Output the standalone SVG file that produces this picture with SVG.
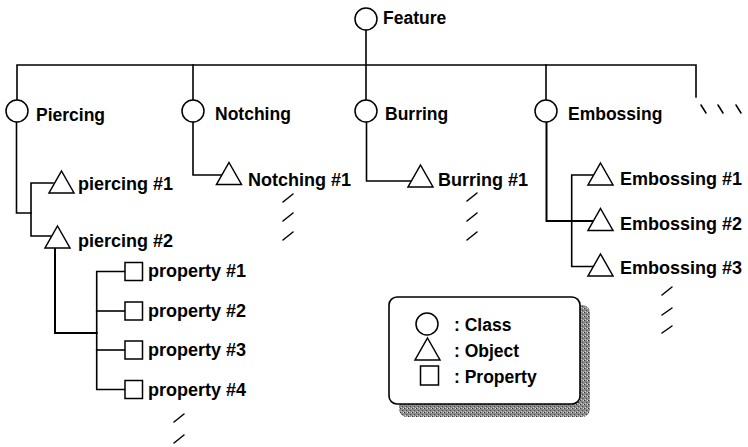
<svg xmlns="http://www.w3.org/2000/svg" width="748" height="447" viewBox="0 0 748 447">
<defs>
<style>
.ln{fill:none;stroke:#000;stroke-width:1.6;stroke-linecap:square}
.thk{stroke-width:2}
.sh{fill:#fff;stroke:#000;stroke-width:1.5}
.cls{font-family:"Liberation Sans",Arial,sans-serif;font-weight:bold;font-size:17.5px;fill:#000}
.obj{font-family:"Liberation Sans",Arial,sans-serif;font-weight:bold;font-size:18px;fill:#000}
.prp{font-family:"Liberation Sans",Arial,sans-serif;font-weight:bold;font-size:18px;fill:#000}
.tick{fill:none;stroke:#000;stroke-width:1.5;stroke-linecap:round}
</style>
<pattern id="half" width="4" height="4" patternUnits="userSpaceOnUse">
<rect width="4" height="4" fill="#8c8c8c"/>
<rect x="0" y="0" width="1" height="1" fill="#333"/>
<rect x="2" y="2" width="1" height="1" fill="#444"/>
<rect x="3" y="0" width="1" height="1" fill="#ddd"/>
<rect x="1" y="3" width="1" height="1" fill="#ccc"/>
</pattern>
<polygon id="tri" points="12.5,0 25,22 0,22"/>
</defs>

<g id="connectors">
<path class="ln" d="M366,30 V100"/>
<path class="ln" d="M17,100 V65 H696 V97"/>
<path class="ln" d="M193,65 V100"/>
<path class="ln" d="M546,65 V100"/>
<path class="ln" d="M16.5,122 V213 H31"/>
<path class="ln" d="M53,183 H31 V236 H51"/>
<path class="ln thk" d="M55,248 V333 H96.7"/>
<path class="ln" d="M125,271.5 H96.7 V389.5 H125"/>
<path class="ln" d="M96.7,311 H125"/>
<path class="ln" d="M96.7,350 H125"/>
<path class="ln" d="M193,122 V175 H222"/>
<path class="ln" d="M366.5,122 V181 H412"/>
<path class="ln thk" d="M546.5,122 V221 H593"/>
<path class="ln" d="M593,175 H571.7 V266.5 H593"/>
</g>

<g id="feature"><circle class="sh" cx="366" cy="19" r="11"/><text class="cls" x="383" y="24">Feature</text></g>
<g id="piercing"><circle class="sh" cx="17" cy="111" r="11"/><text class="cls" x="36" y="120.5">Piercing</text></g>
<g id="notching"><circle class="sh" cx="193" cy="111" r="11"/><text class="cls" x="215" y="120">Notching</text></g>
<g id="burring"><circle class="sh" cx="366" cy="111" r="11"/><text class="cls" x="385" y="120">Burring</text></g>
<g id="embossing"><circle class="sh" cx="546" cy="111" r="11"/><text class="cls" x="568" y="120">Embossing</text></g>

<g id="piercing1"><use href="#tri" class="sh" x="49" y="171"/><text class="obj" x="78" y="189.5">piercing #1</text></g>
<g id="piercing2"><use href="#tri" class="sh" x="45" y="226"/><text class="obj" x="78" y="246.5">piercing #2</text></g>
<g id="notching1"><use href="#tri" class="sh" x="216.5" y="162.5"/><text class="obj" x="248" y="186">Notching #1</text></g>
<g id="burring1"><use href="#tri" class="sh" x="408" y="165"/><text class="obj" x="438" y="186">Burring #1</text></g>
<g id="embossing1"><use href="#tri" class="sh" x="588" y="163"/><text class="obj" x="620" y="185">Embossing #1</text></g>
<g id="embossing2"><use href="#tri" class="sh" x="588" y="208.5"/><text class="obj" x="620" y="230">Embossing #2</text></g>
<g id="embossing3"><use href="#tri" class="sh" x="588" y="254"/><text class="obj" x="620" y="273.5">Embossing #3</text></g>

<g id="property1"><rect class="sh" x="125" y="262.5" width="17.5" height="18"/><text class="prp" x="148" y="277">property #1</text></g>
<g id="property2"><rect class="sh" x="125" y="302" width="17.5" height="18"/><text class="prp" x="148" y="316.5">property #2</text></g>
<g id="property3"><rect class="sh" x="125" y="341" width="17.5" height="18"/><text class="prp" x="148" y="356">property #3</text></g>
<g id="property4"><rect class="sh" x="125" y="380.5" width="17.5" height="18"/><text class="prp" x="148" y="395.5">property #4</text></g>

<g id="ellipsis">
<path class="tick" d="M701,105 L706,113 M718,105 L723,113 M736,105 L741,113"/>
<path class="tick" d="M283,202 L293,194 M283,221 L293,213 M283,240 L293,232"/>
<path class="tick" d="M467,201 L477,193 M467,221 L477,213 M467,240 L477,232"/>
<path class="tick" d="M662,295 L672,287 M662,315 L672,308 M662,333 L672,326"/>
<path class="tick" d="M174,422 L184,414 M174,443 L184,435"/>
</g>

<g id="legend">
<rect x="399" y="305" width="191" height="112" rx="8" fill="url(#half)"/>
<rect x="389" y="297" width="191" height="107" rx="8" fill="#fff" stroke="#000" stroke-width="1.6"/>
<circle class="sh" cx="427" cy="324" r="11"/>
<text class="cls" x="454" y="331">: Class</text>
<use href="#tri" class="sh" x="415" y="338"/>
<text class="cls" x="454" y="357">: Object</text>
<rect class="sh" x="420.5" y="366" width="18" height="19"/>
<text class="cls" x="454" y="383">: Property</text>
</g>
</svg>
